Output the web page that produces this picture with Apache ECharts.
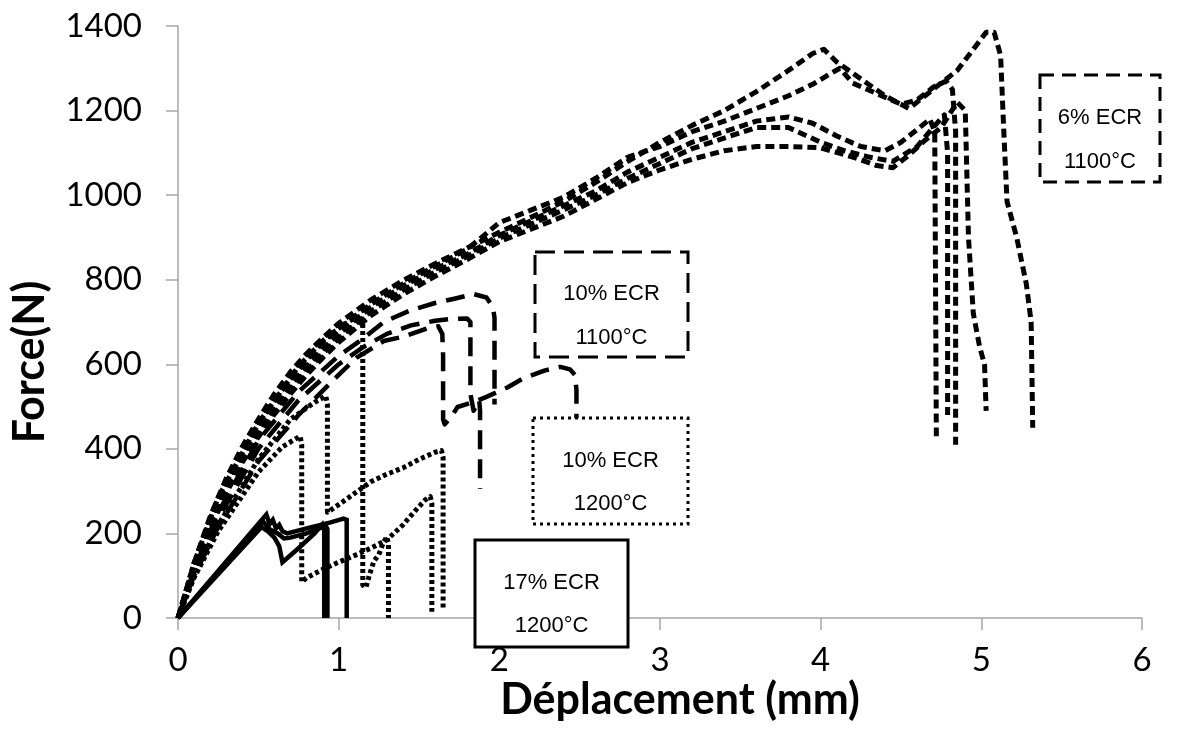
<!DOCTYPE html>
<html>
<head>
<meta charset="utf-8">
<script src="https://cdn.jsdelivr.net/npm/echarts@6/dist/echarts.min.js"></script>
<style>
html,body{margin:0;padding:0;background:#fff;}
#chart{width:1180px;height:735px;}
</style>
</head>
<body>
<div id="chart"></div>
<script>
// ---- Axis ticks ----
const xTicks = [0, 1, 2, 3, 4, 5, 6];
const yTicks = [0, 200, 400, 600, 800, 1000, 1200, 1400];

// ---- 6% ECR 1100°C (short dashes) : [displacement mm, force N] ----
const A1 = [[0,0],[0.1,130],[0.2,240],[0.3,330],[0.4,405],[0.5,470],[0.6,530],[0.7,582],[0.8,625],[0.9,662],[1.0,697],[1.2,752],[1.4,798],[1.6,838],[1.8,875],[2.0,912],[2.2,948],[2.4,985],[2.6,1030],[2.8,1080],[3.0,1125],[3.2,1165],[3.4,1200],[3.6,1245],[3.8,1295],[3.95,1335],[4.02,1345],[4.1,1315],[4.25,1275],[4.4,1235],[4.55,1205],[4.65,1235],[4.75,1265],[4.85,1295],[4.95,1345],[5.03,1385],[5.08,1385],[5.12,1330],[5.14,1150],[5.16,985],[5.22,900],[5.28,790],[5.31,700],[5.32,450]];
const A2 = [[0,0],[0.1,125],[0.2,232],[0.3,320],[0.4,395],[0.5,458],[0.6,515],[0.7,565],[0.8,610],[0.9,650],[1.0,685],[1.2,742],[1.4,790],[1.6,832],[1.8,872],[2.0,935],[2.2,965],[2.4,995],[2.6,1040],[2.8,1090],[3.0,1115],[3.2,1150],[3.4,1175],[3.6,1205],[3.8,1235],[3.95,1262],[4.05,1285],[4.12,1300],[4.2,1265],[4.35,1240],[4.5,1215],[4.6,1225],[4.7,1255],[4.78,1270],[4.82,1250],[4.84,1150],[4.84,410]];
const A3 = [[0,0],[0.1,120],[0.2,225],[0.3,312],[0.4,385],[0.5,445],[0.6,500],[0.7,550],[0.8,595],[0.9,635],[1.0,672],[1.2,735],[1.4,785],[1.6,825],[1.8,860],[2.0,905],[2.2,940],[2.4,975],[2.6,1010],[2.8,1055],[3.0,1090],[3.2,1125],[3.4,1150],[3.6,1175],[3.8,1185],[3.95,1170],[4.1,1140],[4.25,1115],[4.4,1105],[4.5,1125],[4.6,1155],[4.68,1180],[4.71,1150],[4.72,430]];
const A4 = [[0,0],[0.1,115],[0.2,218],[0.3,305],[0.4,378],[0.5,438],[0.6,492],[0.7,540],[0.8,585],[0.9,625],[1.0,662],[1.2,725],[1.4,775],[1.6,818],[1.8,855],[2.0,898],[2.2,932],[2.4,965],[2.6,1000],[2.8,1040],[3.0,1075],[3.2,1110],[3.4,1135],[3.6,1160],[3.8,1160],[4.0,1125],[4.15,1105],[4.3,1090],[4.45,1080],[4.6,1115],[4.7,1160],[4.77,1190],[4.79,1100],[4.79,480]];
const A5 = [[0,0],[0.1,110],[0.2,210],[0.3,295],[0.4,368],[0.5,428],[0.6,482],[0.7,530],[0.8,575],[0.9,615],[1.0,652],[1.2,715],[1.4,765],[1.6,808],[1.8,848],[2.0,890],[2.2,920],[2.4,950],[2.6,990],[2.8,1030],[3.0,1060],[3.2,1085],[3.4,1105],[3.6,1115],[3.8,1115],[4.0,1112],[4.2,1090],[4.35,1070],[4.45,1065],[4.55,1095],[4.65,1130],[4.75,1160],[4.85,1220],[4.9,1200],[4.92,900],[4.95,720],[4.99,640],[5.02,600],[5.03,490]];

// ---- 10% ECR 1100°C (long dashes) ----
const B1 = [[0,0],[0.1,115],[0.25,250],[0.5,420],[0.75,535],[1.0,620],[1.15,660],[1.28,700],[1.45,728],[1.6,745],[1.72,755],[1.84,766],[1.92,758],[1.96,735],[1.97,710],[1.97,505]];
const B2 = [[0,0],[0.1,108],[0.25,235],[0.5,400],[0.75,515],[1.0,600],[1.15,640],[1.3,672],[1.45,692],[1.6,703],[1.7,707],[1.8,708],[1.82,700],[1.82,530],[1.84,490],[1.86,505],[1.875,515],[1.88,490],[1.88,305]];
const B3 = [[0,0],[0.1,100],[0.25,215],[0.5,370],[0.75,480],[1.0,575],[1.11,615],[1.28,655],[1.4,665],[1.55,685],[1.62,690],[1.645,672],[1.65,620],[1.65,470],[1.66,458],[1.7,475],[1.74,499],[1.85,512],[1.92,523],[2.05,545],[2.15,567],[2.28,585],[2.38,594],[2.44,588],[2.47,575],[2.48,540],[2.48,472]];

// ---- 10% ECR 1200°C (dotted) ----
const C1 = [[0,0],[0.1,130],[0.25,285],[0.5,460],[0.75,595],[0.9,655],[1.0,685],[1.08,705],[1.14,715],[1.15,700],[1.15,78],[1.17,72],[1.19,100],[1.22,135],[1.25,150],[1.28,180],[1.3,192],[1.31,175],[1.31,0]];
const C2 = [[0,0],[0.1,100],[0.25,220],[0.5,375],[0.7,470],[0.85,510],[0.92,525],[0.93,505],[0.93,250],[1.0,268],[1.1,295],[1.2,322],[1.3,340],[1.4,355],[1.5,375],[1.6,392],[1.64,396],[1.65,380],[1.65,20]];
const C3 = [[0,0],[0.1,95],[0.25,205],[0.5,345],[0.65,405],[0.76,430],[0.77,410],[0.77,85],[0.8,95],[0.9,115],[1.0,132],[1.1,148],[1.2,165],[1.3,185],[1.4,220],[1.48,255],[1.54,280],[1.57,287],[1.58,270],[1.58,15]];

// ---- 17% ECR 1200°C (solid) ----
const D1 = [[0,0],[0.55,245],[0.57,222],[0.59,232],[0.61,212],[0.63,220],[0.65,205],[0.68,200],[0.8,212],[0.95,226],[1.03,235],[1.05,232],[1.05,0]];
const D2 = [[0,0],[0.52,215],[0.56,205],[0.6,190],[0.63,170],[0.65,132],[0.75,165],[0.85,200],[0.9,222],[0.91,215],[0.91,0]];
const D3 = [[0,0],[0.53,228],[0.57,210],[0.62,200],[0.66,188],[0.7,190],[0.8,200],[0.92,218],[0.93,210],[0.93,0]];

// ---- Annotation labels ----
const boxLabels = [
  ['6% ECR', '1100°C'],
  ['10% ECR', '1100°C'],
  ['10% ECR', '1200°C'],
  ['17% ECR', '1200°C']
];
const xTitle = 'Déplacement (mm)';
const yTitle = 'Force(N)';

const styles = {
  A: {color:'#000', width:5, type:[9,5], cap:'butt', join:'round'},
  B: {color:'#000', width:4.5, type:[19,10], cap:'butt', join:'round'},
  C: {color:'#000', width:5, type:[4,3], cap:'butt', join:'round'},
  D: {color:'#000', width:4.5, type:'solid', cap:'butt', join:'miter'}
};
const layerOf = {A:0, B:0, C:2, D:0};
const curves = [
  ['C1',C1,'C'],['C2',C2,'C'],['C3',C3,'C'],
  ['D1',D1,'D'],['D2',D2,'D'],['D3',D3,'D'],
  ['B1',B1,'B'],['B2',B2,'B'],['B3',B3,'B'],
  ['A1',A1,'A'],['A2',A2,'A'],['A3',A3,'A'],['A4',A4,'A'],['A5',A5,'A']
];

const tickFont = 'Lato';
const boxFont = '22px "Liberation Sans", Arial, sans-serif';
const titleFont = 'bold 43px Lato';

function boxGraphics(left, top, w, h, dash, labels, y1, y2) {
  const cx = left + w / 2;
  return [
    {type:'rect', zlevel:1, z:100, shape:{x:left, y:top, width:w, height:h},
     style:{fill:'#fff', stroke:'#000', lineWidth:3, lineDash:dash, lineCap:'butt'}},
    {type:'text', zlevel:1, z:101, x:cx, y:y1, style:{text:labels[0], font:boxFont, fill:'#000', textAlign:'center', textVerticalAlign:'middle'}},
    {type:'text', zlevel:1, z:101, x:cx, y:y2, style:{text:labels[1], font:boxFont, fill:'#000', textAlign:'center', textVerticalAlign:'middle'}}
  ];
}

const chart = echarts.init(document.getElementById('chart'), null, {renderer:'canvas'});
const option = {
  animation:false,
  backgroundColor:'#fff',
  grid:{left:178, top:26, right:38, bottom:117, containLabel:false},
  xAxis:{
    type:'value', min:xTicks[0], max:xTicks[xTicks.length-1], interval:1,
    axisLine:{show:true, onZero:false, lineStyle:{color:'#a6a6a6', width:1.5}},
    axisTick:{show:true, inside:false, length:12, lineStyle:{color:'#a6a6a6', width:1.5}},
    splitLine:{show:false},
    axisLabel:{color:'#000', fontFamily:tickFont, fontSize:33, margin:26, formatter:v => String(v)}
  },
  yAxis:{
    type:'value', min:yTicks[0], max:yTicks[yTicks.length-1], interval:200,
    axisLine:{show:true, onZero:false, lineStyle:{color:'#a6a6a6', width:1.5}},
    axisTick:{show:true, inside:false, length:12, lineStyle:{color:'#a6a6a6', width:1.5}},
    splitLine:{show:false},
    axisLabel:{color:'#000', fontFamily:tickFont, fontSize:33, margin:36, formatter:v => String(v)}
  },
  series: curves.map(c => ({
    name:c[0], type:'line', data:c[1], showSymbol:false, symbol:'none',
    smooth:false, lineStyle:Object.assign({}, styles[c[2]]), zlevel:layerOf[c[2]], z:2, silent:true
  })),
  graphic: [].concat(
    boxGraphics(1040, 75, 120, 107, [14,8], boxLabels[0], 118, 162),
    boxGraphics(535, 252, 153, 105, [20,9], boxLabels[1], 294, 338),
    boxGraphics(533, 418, 155, 106, [3,4], boxLabels[2], 461, 504),
    boxGraphics(475, 540, 153, 107, null, boxLabels[3], 583, 626),
    [
      {type:'text', zlevel:1, z:101, x:30, y:362, rotation:Math.PI/2,
       style:{text:yTitle, font:titleFont, fill:'#000', textAlign:'center', textVerticalAlign:'middle'}},
      {type:'text', zlevel:1, z:101, x:680, y:700,
       style:{text:xTitle, font:titleFont, fill:'#000', textAlign:'center', textVerticalAlign:'middle'}}
    ]
  )
};
chart.setOption(option);
</script>
</body>
</html>
